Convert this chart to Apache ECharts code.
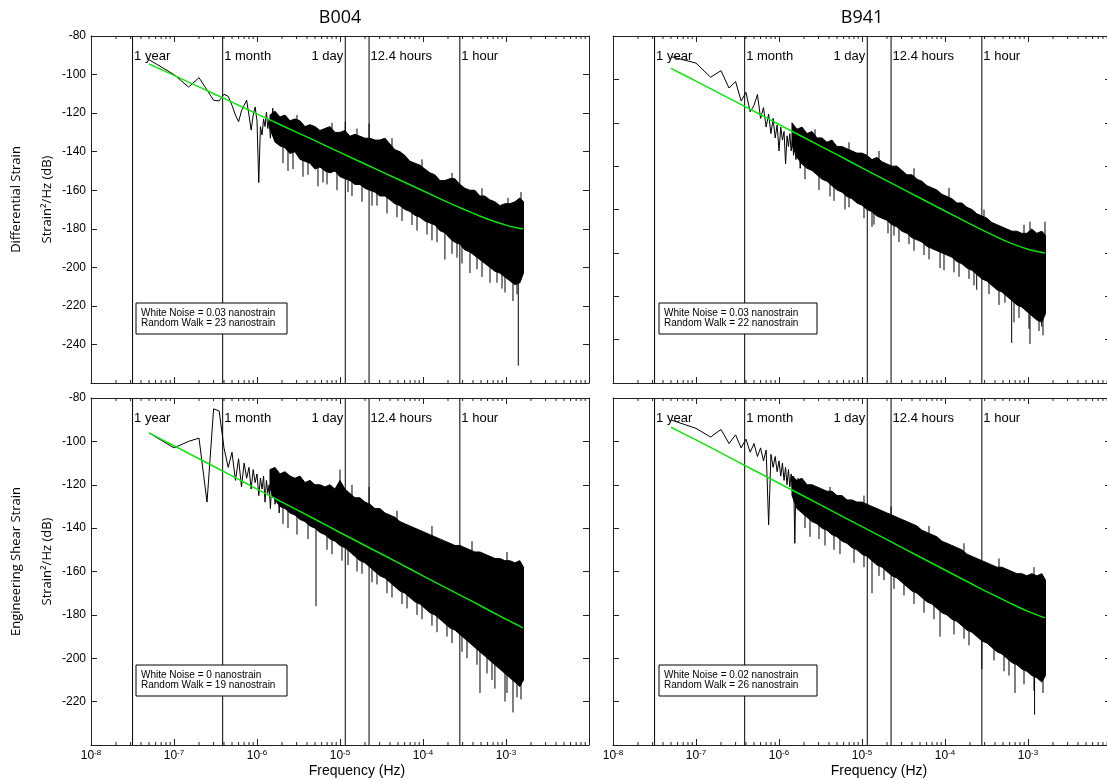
<!DOCTYPE html>
<html>
<head>
<meta charset="utf-8">
<title>Strain power spectra B004 / B941</title>
<script src="https://cdn.jsdelivr.net/npm/echarts@6/dist/echarts.min.js"></script>
<style>
  html, body { margin: 0; padding: 0; background: #fff; }
  #chart { width: 1107px; height: 780px; }
</style>
</head>
<body>
<div id="chart"></div>
<script>
// ---------- labels ----------
const stationNames = ['B004', 'B941'];
const componentNames = ['Differential Strain', 'Engineering Shear Strain'];
const yAxisName = 'Strain\u00B2/Hz (dB)';
const xAxisName = 'Frequency (Hz)';
const xTickExponents = ['-8', '-7', '-6', '-5', '-4', '-3'];
const whiteNoise = ['0.03', '0.03', '0', '0.02'];
const randomWalk = ['23', '22', '19', '26'];

// reference periods marked by vertical lines
const periodFreq = [3.169e-8, 3.858e-7, 1.1574e-5, 2.240e-5, 2.778e-4];
const periodLabel = ['1 year', '1 month', '1 day', '12.4 hours', '1 hour'];

// ---------- frequency grids (Hz) ----------
const lowFreq = [5.0e-8, 1.0e-7, 1.5e-7, 2.0e-7, 2.5e-7, 3.0e-7, 3.5e-7, 4.0e-7, 4.5e-7, 5.0e-7,
  5.5e-7, 6.0e-7, 6.5e-7, 7.0e-7, 7.5e-7, 8.0e-7, 8.5e-7, 9.0e-7, 9.5e-7, 1.0e-6,
  1.05e-6, 1.1e-6, 1.15e-6, 1.2e-6, 1.25e-6, 1.3e-6, 1.35e-6, 1.4e-6, 1.45e-6, 1.5e-6,
  1.55e-6, 1.6e-6, 1.65e-6, 1.7e-6, 1.75e-6, 1.8e-6, 1.85e-6, 1.9e-6, 1.95e-6, 2.0e-6];

const bandFreq = [1.434e-6, 1.647e-6, 1.892e-6, 2.174e-6, 2.497e-6, 2.868e-6, 3.295e-6, 3.785e-6, 4.348e-6, 4.994e-6,
  5.737e-6, 6.590e-6, 7.570e-6, 8.696e-6, 9.989e-6, 1.1475e-5, 1.318e-5, 1.514e-5, 1.739e-5, 1.998e-5,
  2.295e-5, 2.636e-5, 3.028e-5, 3.478e-5, 3.996e-5, 4.590e-5, 5.272e-5, 6.056e-5, 6.957e-5, 7.992e-5,
  9.180e-5, 1.0545e-4, 1.2113e-4, 1.3915e-4, 1.598e-4, 1.836e-4, 2.109e-4, 2.423e-4, 2.783e-4, 3.197e-4,
  3.672e-4, 4.218e-4, 4.846e-4, 5.566e-4, 6.394e-4, 7.345e-4, 8.437e-4, 9.692e-4, 1.1133e-3, 1.2789e-3,
  1.469e-3, 1.625e-3];

const fitFreq = [5.0e-8, 1e-7, 2e-7, 5e-7, 1e-6, 2e-6, 5e-6, 1e-5, 2e-5, 5e-5, 1e-4, 2e-4, 3e-4, 5e-4, 7e-4, 1e-3, 1.3e-3, 1.6e-3];

// ---------- B004 differential strain (dB) ----------
const b004DiffLow = [-92.3, -100, -106.5, -101.6, -108, -113.3, -113.7, -110.2, -111.3, -116,
  -121, -124.5, -118.8, -116, -113.3, -121, -128.8, -121, -116.8, -124,
  -156, -127, -131.4, -123, -127, -119.4, -128, -123, -133, -125,
  -117.5, -129, -124, -135, -126, -131, -124, -137, -127, -132];
const b004DiffUpper = [-121, -119, -122, -121, -124, -123, -124, -127, -126, -127,
  -129, -128, -127, -130, -130, -129, -132, -131, -132, -133,
  -133, -134, -134, -133, -136, -139, -140, -142, -145, -146,
  -147, -149, -151, -152, -155, -155, -154, -154, -157, -159,
  -160, -160, -163, -163, -165, -166, -168, -167, -167, -166,
  -164, -166];
const b004DiffLower = [-128, -135, -137, -138, -141, -140, -144, -145, -146, -149,
  -148, -150, -151, -150, -153, -154, -155, -157, -157, -159,
  -160, -161, -163, -163, -165, -167, -168, -170, -171, -173,
  -174, -176, -177, -178, -181, -182, -185, -187, -188, -191,
  -192, -194, -196, -198, -200, -202, -203, -205, -207, -209,
  -208, -203];
const b004DiffSpikes = [[2.057e-6, -136, -146], [2.363e-6, -138, -150], [2.715e-6, -139, -149],
  [3.582e-6, -142, -153], [4.116e-6, -144, -152], [5.431e-6, -146, -158], [6.242e-6, -148, -156],
  [6.973e-6, -147, -157], [9.202e-6, -149, -160], [1.249e-5, -153, -161], [1.395e-5, -152, -163],
  [1.841e-5, -156, -166], [2.429e-5, -159, -168], [2.791e-5, -158, -168], [3.683e-5, -162, -172],
  [4.861e-5, -164, -174], [5.585e-5, -166, -176], [7.370e-5, -168, -178], [8.467e-5, -171, -181],
  [1.117e-4, -173, -183], [1.283e-4, -175, -186], [1.475e-4, -175, -187], [1.836e-4, -179, -196],
  [2.236e-4, -184, -193], [2.568e-4, -184, -195], [2.950e-4, -186, -198], [3.683e-4, -189, -203],
  [4.473e-4, -191, -201], [5.139e-4, -194, -205], [6.416e-4, -197, -208], [7.791e-4, -199, -208],
  [8.950e-4, -200, -211], [9.728e-4, -202, -213], [1.214e-3, -205, -217.5], [1.357e-3, -206, -214],
  [1.406e-3, -205, -251],
  [3.033e-6, -126, -121], [8.010e-6, -130, -125], [1.157e-5, -132, -124.5], [1.602e-5, -134, -128],
  [2.240e-5, -135, -125.4], [4.231e-5, -138, -133], [9.727e-5, -150, -144], [2.236e-4, -157, -151],
  [5.139e-4, -165, -159], [1.057e-3, -169, -164], [1.516e-3, -167, -161]];
const b004DiffFit = [-94.5, -100.4, -106.4, -114.3, -120.4, -126.4, -134.3, -140.4, -146.4, -154.3,
  -160.3, -166.3, -169.6, -173.6, -176.0, -178.1, -179.3, -180.0];

// ---------- B941 differential strain (dB) ----------
const b941DiffLow = [-89.5, -92.5, -99, -96, -104, -101, -110, -106, -115, -112,
  -107, -118, -113, -122, -116, -125, -118, -127, -121, -133,
  -122, -128, -124, -139, -126, -131, -125, -133, -128, -135,
  -127, -137, -129, -134, -128, -141, -130, -136, -131, -138];
const b941DiffUpper = [-120, -123, -122, -125, -124, -127, -127, -129, -128, -131,
  -131, -132, -133, -134, -134, -135, -137, -136, -138, -139,
  -140, -140, -142, -144, -144, -146, -147, -149, -150, -151,
  -153, -154, -155, -157, -157, -159, -160, -162, -163, -164,
  -166, -167, -168, -169, -170, -170, -171, -171, -169, -171,
  -170, -172];
const b941DiffLower = [-130, -136, -139, -141, -142, -144, -146, -147, -149, -151,
  -152, -154, -155, -157, -158, -160, -161, -163, -164, -165,
  -167, -168, -170, -171, -173, -174, -175, -177, -178, -179,
  -180, -181, -182, -184, -185, -187, -188, -190, -192, -193,
  -195, -197, -198, -200, -202, -204, -205, -207, -209, -211,
  -212, -208];
const b941DiffSpikes = [[2.057e-6, -136, -146], [3.033e-6, -141, -151], [4.116e-6, -145, -154],
  [4.599e-6, -146, -156], [6.242e-6, -149, -160], [6.973e-6, -151, -159], [1.057e-5, -155, -164],
  [1.320e-5, -158, -168], [1.395e-5, -160, -167], [2.057e-5, -163, -171], [2.429e-5, -164, -172],
  [2.791e-5, -166, -175], [3.683e-5, -168, -176], [4.231e-5, -171, -179], [5.585e-5, -172, -181],
  [6.416e-5, -175, -183], [8.71e-5, -176, -187], [9.727e-5, -178, -188], [1.283e-4, -179, -189],
  [1.475e-4, -182, -191], [1.946e-4, -184, -192], [2.236e-4, -186, -195], [2.41e-4, -187, -197],
  [3.389e-4, -190, -199], [4.473e-4, -195, -204], [5.28e-4, -197, -203], [6.36e-4, -199, -221.5],
  [6.782e-4, -201, -212], [7.791e-4, -201, -210], [1.028e-3, -206, -215], [1.057e-3, -205, -222],
  [1.357e-3, -208, -216], [1.462e-3, -208, -214], [1.516e-3, -210, -218],
  [2.715e-6, -128, -123], [6.973e-6, -134, -129], [1.602e-5, -138, -133], [4.231e-5, -146, -141],
  [1.117e-4, -155, -150], [2.950e-4, -165, -160], [8.95e-4, -172, -167], [1.057e-3, -171, -165.6],
  [1.602e-3, -173, -165.6]];
const b941DiffFit = [-94.9, -100.8, -106.8, -114.7, -120.8, -126.8, -134.7, -140.8, -146.8, -154.7,
  -160.7, -166.6, -170.0, -174.0, -176.3, -178.3, -179.4, -180.1];

// ---------- B004 engineering shear strain (dB) ----------
const b004ShearLow = [-96.1, -103, -100, -98.5, -128, -85, -86, -103, -112, -105,
  -118, -108, -121, -110, -117, -112, -122, -113, -119, -115,
  -125, -117, -122, -116, -128, -118, -124, -120, -131, -121,
  -126, -119, -129, -122, -127, -120, -133, -123, -128, -122];
const b004ShearUpper = [-113, -112, -115, -114, -116, -117, -116, -119, -118, -120,
  -120, -121, -120, -122, -118, -122, -124, -126, -126, -128,
  -129, -131, -131, -133, -134, -135, -137, -138, -139, -140,
  -141, -142, -143, -144, -145, -146, -147, -148, -148, -149,
  -150, -151, -151, -152, -153, -154, -154, -155, -155, -156,
  -155, -158];
const b004ShearLower = [-122, -127, -130, -131, -133, -134, -136, -137, -139, -140,
  -142, -143, -145, -146, -148, -149, -151, -153, -155, -156,
  -158, -160, -162, -163, -165, -167, -169, -170, -172, -174,
  -175, -177, -179, -180, -182, -184, -186, -187, -189, -191,
  -193, -195, -197, -199, -201, -203, -205, -207, -209, -211,
  -213, -210];
const b004ShearSpikes = [[2.057e-6, -129, -138], [2.363e-6, -131, -140], [3.033e-6, -133, -143],
  [4.116e-6, -136, -145], [5.14e-6, -137, -176], [6.973e-6, -141, -150], [8.010e-6, -142, -152],
  [1.057e-5, -147, -155], [1.249e-5, -148, -157], [1.602e-5, -151, -160], [1.841e-5, -152, -161],
  [2.429e-5, -156, -165], [2.791e-5, -157, -166], [3.683e-5, -161, -170], [4.231e-5, -162, -172],
  [5.585e-5, -166, -175], [6.416e-5, -167, -177], [8.467e-5, -171, -180], [9.727e-5, -172, -182],
  [1.283e-4, -175, -185], [1.475e-4, -177, -188], [1.946e-4, -181, -190], [2.236e-4, -182, -193],
  [2.950e-4, -186, -197], [3.389e-4, -188, -200], [4.473e-4, -192, -203], [4.86e-4, -193, -216],
  [5.903e-4, -196, -207], [6.782e-4, -198, -210], [7.35e-4, -199, -214], [9.73e-4, -203, -220],
  [1.028e-3, -204, -216], [1.214e-3, -207, -225], [1.357e-3, -208, -218], [1.516e-3, -209, -219],
  [1.0e-5, -121, -113], [1.395e-5, -127, -120], [2.24e-5, -131, -121], [4.861e-5, -138, -132],
  [1.283e-4, -145, -139], [3.894e-4, -152, -146], [1.028e-3, -157, -151]];
const b004ShearFit = [-96.1, -102.0, -108.0, -115.9, -122.0, -128.0, -135.9, -142.0, -148.0, -155.9,
  -162.0, -168.0, -171.5, -175.9, -178.9, -182.0, -184.2, -186.0];

// ---------- B941 engineering shear strain (dB) ----------
const b941ShearLow = [-90.1, -94, -98, -94.5, -101, -97, -103, -99, -105, -101,
  -107, -103, -109, -104, -138.5, -106, -112, -107, -114, -109,
  -116, -110, -118, -112, -120, -113, -121, -115, -123, -116,
  -147, -118, -125, -117, -127, -119, -128, -120, -130, -122];
const b941ShearUpper = [-116, -118, -117, -120, -120, -121, -122, -123, -123, -125,
  -125, -127, -127, -128, -128, -129, -130, -131, -132, -133,
  -134, -135, -136, -137, -138, -139, -141, -142, -143, -144,
  -146, -147, -148, -149, -150, -152, -153, -154, -155, -156,
  -157, -158, -158, -159, -160, -161, -161, -162, -161, -162,
  -161, -164];
const b941ShearLower = [-125, -131, -133, -135, -137, -138, -140, -141, -143, -144,
  -146, -147, -149, -150, -152, -153, -155, -157, -158, -160,
  -162, -163, -165, -167, -169, -170, -172, -174, -175, -177,
  -179, -180, -182, -183, -185, -187, -188, -190, -192, -193,
  -195, -197, -198, -200, -202, -203, -205, -206, -208, -209,
  -211, -208];
const b941ShearSpikes = [[2.057e-6, -131, -140], [2.363e-6, -134, -144], [3.033e-6, -136, -145],
  [3.582e-6, -138, -148], [4.599e-6, -140, -150], [5.431e-6, -142, -152], [8.010e-6, -146, -156],
  [1.057e-5, -149, -158], [1.32e-5, -152, -170], [1.602e-5, -154, -162], [1.841e-5, -155, -164],
  [2.429e-5, -159, -168], [3.206e-5, -162, -171], [4.231e-5, -166, -175], [5.585e-5, -170, -179],
  [7.370e-5, -172, -182], [8.71e-5, -176, -190], [1.283e-4, -179, -189], [1.694e-4, -182, -191],
  [1.946e-4, -184, -194], [2.78e-4, -188, -205], [3.894e-4, -192, -201], [5.139e-4, -196, -206],
  [5.903e-4, -198, -208], [6.97e-4, -200, -216], [8.95e-4, -203, -212], [1.181e-3, -205, -215],
  [1.2e-3, -206, -226], [1.516e-3, -208, -216],
  [4.116e-6, -126, -121], [1.057e-5, -131, -125], [2.24e-5, -136, -130], [6.416e-5, -145, -139],
  [1.694e-4, -153, -147], [4.473e-4, -160, -154], [1.181e-3, -164, -158]];
const b941ShearFit = [-93.5, -99.3, -105.3, -113.3, -119.3, -125.3, -133.3, -139.3, -145.3, -153.3,
  -159.3, -165.3, -168.8, -173.0, -175.7, -178.4, -180.1, -181.3];

// ---------- layout ----------
const PANEL_W = 498, PANEL_H = 347;
const panels = [
  { left: 91,  top: 36,  yMin: -260, bottomRow: false, leftCol: true,
    low: b004DiffLow, upper: b004DiffUpper, lower: b004DiffLower, spikes: b004DiffSpikes, fit: b004DiffFit },
  { left: 613, top: 36,  yMin: -240, bottomRow: false, leftCol: false,
    low: b941DiffLow, upper: b941DiffUpper, lower: b941DiffLower, spikes: b941DiffSpikes, fit: b941DiffFit },
  { left: 91,  top: 398, yMin: -240, bottomRow: true,  leftCol: true,
    low: b004ShearLow, upper: b004ShearUpper, lower: b004ShearLower, spikes: b004ShearSpikes, fit: b004ShearFit },
  { left: 613, top: 398, yMin: -240, bottomRow: true,  leftCol: false,
    low: b941ShearLow, upper: b941ShearUpper, lower: b941ShearLower, spikes: b941ShearSpikes, fit: b941ShearFit }
];
const Y_MAX = -80;
const AXIS_COLOR = '#222';
const FIT_COLOR = '#14e014';
const HELV = '"Liberation Sans", Arial, Helvetica, sans-serif';
const SANS = '"Open Sans", "Noto Sans", sans-serif';

// minor log ticks at 2..9 x 10^n
const decadeStarts = [1e-8, 1e-7, 1e-6, 1e-5, 1e-4, 1e-3];
const minorMultipliers = [2, 3, 4, 5, 6, 7, 8, 9];
const minorFreq = decadeStarts.flatMap(d => minorMultipliers.map(m => m * d));

const labelsLeftOfLine = { '1 day': true };

const grids = [], xAxes = [], yAxes = [], series = [], graphics = [];

panels.forEach((p, gi) => {
  grids.push({ left: p.left, top: p.top, width: PANEL_W, height: PANEL_H,
    containLabel: false, outerBoundsMode: 'none' });

  const xBase = {
    gridIndex: gi, type: 'log', logBase: 10, min: 1e-8, max: 1e-2, splitNumber: 6,
    axisLine: { show: true, onZero: false, lineStyle: { color: AXIS_COLOR, width: 1 } },
    axisTick: { show: true, inside: true, length: 6, lineStyle: { color: AXIS_COLOR } },
    minorTick: { show: false }, splitLine: { show: false }, minorSplitLine: { show: false }
  };
  xAxes.push(Object.assign({}, xBase, {
    position: 'bottom',
    axisLabel: {
      show: p.bottomRow, margin: 4, color: '#000', showMaxLabel: false,
      formatter: (v, idx) => idx < xTickExponents.length ? '{b|10}{s|' + xTickExponents[idx] + '}' : '',
      rich: {
        b: { fontSize: 12, fontFamily: HELV, color: '#000', lineHeight: 14 },
        s: { fontSize: 8, fontFamily: HELV, color: '#000', lineHeight: 8, verticalAlign: 'top', padding: [0, 0, 6, 0] }
      }
    }
  }));
  xAxes.push(Object.assign({}, xBase, { position: 'top', axisLabel: { show: false } }));

  const yBase = {
    gridIndex: gi, type: 'value', min: p.yMin, max: Y_MAX, interval: 20,
    axisLine: { show: true, onZero: false, lineStyle: { color: AXIS_COLOR, width: 1 } },
    axisTick: { show: true, inside: true, length: 6, lineStyle: { color: AXIS_COLOR } },
    splitLine: { show: false }
  };
  yAxes.push(Object.assign({}, yBase, {
    position: 'left',
    axisLabel: { show: p.leftCol, showMinLabel: false, margin: 5, color: '#000',
      fontSize: 12, fontFamily: HELV }
  }));
  yAxes.push(Object.assign({}, yBase, { position: 'right', axisLabel: { show: false } }));

  const xi = gi * 2, yi = gi * 2;

  // reference period lines with their names
  series.push({
    type: 'custom', xAxisIndex: xi, yAxisIndex: yi, z: 1, silent: true, clip: false,
    data: periodFreq.map((f, i) => [f, Y_MAX, i]),
    renderItem: (params, api) => {
      const f = api.value(0), i = api.value(2);
      const top = api.coord([f, Y_MAX]);
      const bot = api.coord([f, p.yMin]);
      const left = !!labelsLeftOfLine[periodLabel[i]];
      return {
        type: 'group',
        children: [
          { type: 'line', shape: { x1: top[0], y1: top[1], x2: bot[0], y2: bot[1] },
            style: { stroke: '#000', lineWidth: 1 } },
          { type: 'text', x: left ? top[0] - 2 : top[0] + 1.5, y: top[1] + 20,
            style: { text: periodLabel[i], fill: '#000', font: '13px ' + HELV,
              align: left ? 'right' : 'left', verticalAlign: 'middle' } }
        ]
      };
    }
  });

  // dense part of the spectrum: filled envelope
  series.push({
    type: 'custom', xAxisIndex: xi, yAxisIndex: yi, z: 2, silent: true, clip: true,
    data: [[bandFreq[0], p.upper[0]]],
    renderItem: (params, api) => {
      const pts = [];
      for (let i = 0; i < bandFreq.length; i++) pts.push(api.coord([bandFreq[i], p.upper[i]]));
      for (let i = bandFreq.length - 1; i >= 0; i--) pts.push(api.coord([bandFreq[i], p.lower[i]]));
      return { type: 'polygon', shape: { points: pts },
        style: { fill: '#000', stroke: '#000', lineWidth: 1 } };
    }
  });

  // isolated spikes
  series.push({
    type: 'custom', xAxisIndex: xi, yAxisIndex: yi, z: 2, silent: true, clip: true,
    data: p.spikes, encode: { x: 0, y: [1, 2] },
    renderItem: (params, api) => {
      const a = api.coord([api.value(0), api.value(1)]);
      const b = api.coord([api.value(0), api.value(2)]);
      return { type: 'line', shape: { x1: a[0], y1: a[1], x2: b[0], y2: b[1] },
        style: { stroke: '#000', lineWidth: 1 } };
    }
  });

  // low-frequency spectrum line
  series.push({
    type: 'line', xAxisIndex: xi, yAxisIndex: yi, z: 3, silent: true,
    data: lowFreq.map((f, i) => [f, p.low[i]]),
    showSymbol: false, symbol: 'none',
    lineStyle: { color: '#000', width: 1 }
  });

  // fitted noise model
  series.push({
    type: 'line', xAxisIndex: xi, yAxisIndex: yi, z: 4, silent: true,
    data: fitFreq.map((f, i) => [f, p.fit[i]]),
    showSymbol: false, symbol: 'none', smooth: 0.2,
    lineStyle: { color: FIT_COLOR, width: 1.5 }
  });

  // log minor ticks on bottom and top edges
  series.push({
    type: 'custom', xAxisIndex: xi, yAxisIndex: yi, z: 6, silent: true, clip: false,
    data: minorFreq.map(f => [f, Y_MAX]),
    renderItem: (params, api) => {
      const f = api.value(0);
      const t = api.coord([f, Y_MAX]);
      const b = api.coord([f, p.yMin]);
      return {
        type: 'group',
        children: [
          { type: 'line', shape: { x1: b[0], y1: b[1], x2: b[0], y2: b[1] - 3 }, style: { stroke: AXIS_COLOR, lineWidth: 1 } },
          { type: 'line', shape: { x1: t[0], y1: t[1], x2: t[0], y2: t[1] + 3 }, style: { stroke: AXIS_COLOR, lineWidth: 1 } }
        ]
      };
    }
  });

  // noise-model annotation box
  const boxW = p.leftCol ? 151 : 158;
  const boxX = p.leftCol ? 136 : 659;
  const boxY = p.top + 267;
  graphics.push({ type: 'rect', z: 100, shape: { x: boxX, y: boxY, width: boxW, height: 31 },
    style: { fill: '#fff', stroke: '#000', lineWidth: 1 } });
  graphics.push({ type: 'text', z: 101, x: boxX + 5, y: boxY + 10.5,
    style: { text: 'White Noise = ' + whiteNoise[gi] + ' nanostrain', fill: '#000',
      font: '10px ' + HELV, align: 'left', verticalAlign: 'middle' } });
  graphics.push({ type: 'text', z: 101, x: boxX + 5, y: boxY + 20.5,
    style: { text: 'Random Walk = ' + randomWalk[gi] + ' nanostrain', fill: '#000',
      font: '10px ' + HELV, align: 'left', verticalAlign: 'middle' } });
});

// titles, row names and axis names
stationNames.forEach((name, c) => {
  graphics.push({ type: 'text', x: panels[c].left + PANEL_W / 2, y: 18, z: 100,
    style: { text: name, fill: '#000', font: '18px ' + SANS, align: 'center', verticalAlign: 'middle' } });
  graphics.push({ type: 'text', x: panels[c].left + PANEL_W / 2 + 17, y: 771, z: 100,
    style: { text: xAxisName, fill: '#000', font: '14px ' + HELV, align: 'center', verticalAlign: 'middle' } });
});
componentNames.forEach((name, r) => {
  const cy = panels[r * 2].top + PANEL_H / 2 - 10;
  graphics.push({ type: 'text', x: 16, y: cy, rotation: Math.PI / 2, z: 100,
    style: { text: name, fill: '#000', font: '13px ' + SANS, align: 'center', verticalAlign: 'middle' } });
  graphics.push({ type: 'text', x: 47, y: cy, rotation: Math.PI / 2, z: 100,
    style: { text: yAxisName, fill: '#000', font: '13px ' + SANS, align: 'center', verticalAlign: 'middle' } });
});

const chart = echarts.init(document.getElementById('chart'), null, { renderer: 'canvas' });
chart.setOption({
  backgroundColor: '#fff',
  animation: false,
  grid: grids,
  xAxis: xAxes,
  yAxis: yAxes,
  series: series,
  graphic: graphics
});
</script>
</body>
</html>
